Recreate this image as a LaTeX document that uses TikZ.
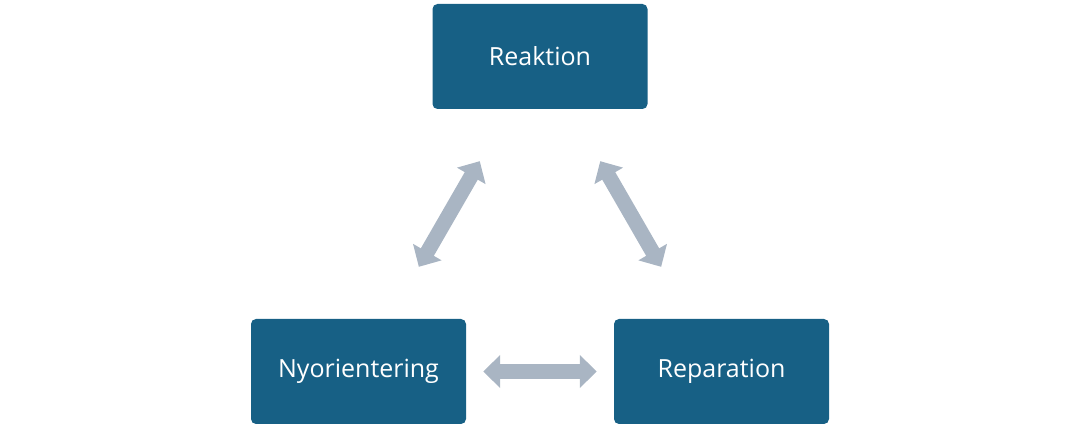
\documentclass[tikz,border=0pt]{standalone}
\usepackage{fontspec}
\setmainfont{Open Sans}
\usetikzlibrary{arrows.meta}
\definecolor{boxblue}{HTML}{176085}
\definecolor{arrowgray}{HTML}{A9B5C3}
\tikzset{
  phase/.style={rectangle, rounded corners=5pt, minimum width=215pt, minimum height=105pt, fill=boxblue, text=white, font=\fontsize{25}{30}\selectfont},
  link/.style={arrowgray, line width=15pt, {Triangle[width=32pt,length=17pt]}-{Triangle[width=32pt,length=17pt]}}
}
\begin{document}
\begin{tikzpicture}[x=1pt,y=1pt]
\useasboundingbox (0,0) rectangle (1080,428);

% Phases
\node (reak) [phase] at (540,371.5) {Reaktion};
\node (nyor) [phase] at (358.5,56.5) {Nyorientering};
\node (repa) [phase] at (721.5,56.5) {Reparation};

% Connecting arrows
\draw [link, shorten <=60pt, shorten >=60pt] (reak) -- (nyor);
\draw [link, shorten <=60pt, shorten >=60pt] (reak) -- (repa);
\draw [link, shorten <=17pt, shorten >=17pt] (nyor) -- (repa);

\end{tikzpicture}
\end{document}
